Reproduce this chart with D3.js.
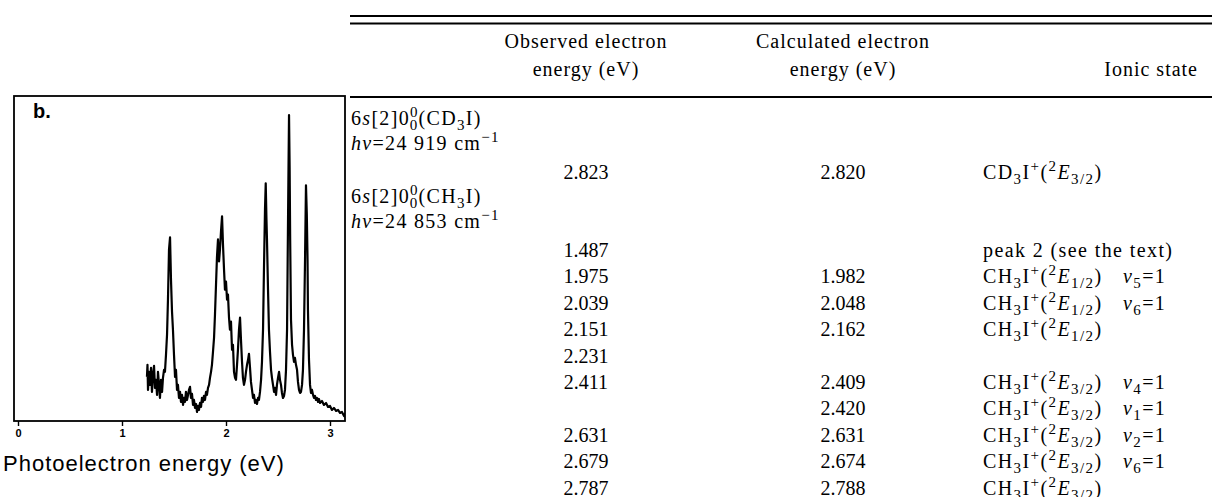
<!DOCTYPE html>
<html>
<head>
<meta charset="utf-8">
<script src="https://cdn.jsdelivr.net/npm/d3@7"></script>
<style>
body { margin: 0; background: #fff; }
svg { display: block; }
</style>
</head>
<body>
<script>
// panel b: photoelectron spectrum (eV, arbitrary intensity)
var energy = [1.240,1.245,1.250,1.260,1.269,1.279,1.288,1.298,1.308,1.317,1.327,1.337,1.346,1.356,1.365,1.375,1.385,1.394,1.404,1.413,
  1.423,1.433,1.442,1.452,1.462,1.471,1.481,1.490,1.500,1.510,1.519,1.529,1.538,1.548,1.558,1.567,1.577,1.587,1.596,1.606,
  1.615,1.625,1.635,1.644,1.654,1.663,1.673,1.683,1.692,1.702,1.712,1.721,1.731,1.740,1.750,1.760,1.769,1.779,1.788,1.798,
  1.808,1.817,1.827,1.837,1.846,1.856,1.865,1.875,1.885,1.894,1.904,1.913,1.923,1.933,1.942,1.952,1.962,1.971,1.981,1.990,
  2.000,2.010,2.019,2.029,2.038,2.048,2.058,2.067,2.077,2.087,2.096,2.106,2.115,2.125,2.135,2.144,2.154,2.163,2.173,2.183,
  2.192,2.202,2.212,2.221,2.231,2.240,2.250,2.260,2.269,2.279,2.288,2.298,2.308,2.317,2.327,2.337,2.346,2.356,2.365,2.375,
  2.382,2.389,2.394,2.404,2.413,2.423,2.433,2.442,2.452,2.462,2.471,2.481,2.490,2.500,2.510,2.519,2.529,2.538,2.548,2.558,
  2.567,2.577,2.587,2.593,2.600,2.606,2.612,2.617,2.625,2.635,2.644,2.654,2.663,2.673,2.683,2.692,2.702,2.712,2.721,2.731,
  2.740,2.750,2.760,2.769,2.777,2.784,2.788,2.798,2.808,2.817,2.827,2.837,2.846,2.856,2.865,2.875,2.885,2.894,2.904,2.923,
  2.942,2.962,2.981,3.000,3.019,3.038,3.058,3.077,3.096,3.115,3.135,3.144,3.154];
var intensity = [44,56,31,49,36,53,29,46,55,33,41,26,49,36,23,41,29,43,51,49,
  66,86,121,171,183,141,109,91,66,44,51,31,36,23,29,19,26,16,23,19,
  29,21,26,31,34,23,27,16,21,13,17,9,15,11,18,14,23,19,25,21,
  29,26,33,36,43,49,56,69,83,106,136,163,181,159,171,189,204,176,151,131,
  139,121,126,103,91,99,71,76,49,43,41,56,71,91,103,81,59,43,36,41,
  49,56,61,67,53,39,31,23,26,18,21,17,23,21,29,41,59,91,151,211,
  237,201,181,131,91,69,51,43,36,29,33,26,36,43,49,41,36,28,23,25,
  31,51,91,161,241,305,251,181,101,76,66,59,63,56,51,39,31,28,29,36,
  51,91,161,235,206,161,111,61,36,28,31,26,23,25,21,23,19,22,18,20,
  16,18,14,15,11,13,10,11,8,9,5,7,2];
var xTicks = [0, 1, 2, 3];
var panelLabel = "b.";
var xTitle = "Photoelectron energy (eV)";

// table: header, group labels and one entry per body row
var headObserved = ["Observed electron", "energy (eV)"];
var headCalculated = ["Calculated electron", "energy (eV)"];
var headState = "Ionic state";
var rowLabel = [
  [["6"], ["s", "i"], ["[2]0"], ["0", "p"], ["0", "bk"], ["(CD"], ["3", "b"], ["I)"]],
  [["h", "i"], ["ν", "i"], ["=24 919 cm"], ["−1", "p"]],
  null,
  [["6"], ["s", "i"], ["[2]0"], ["0", "p"], ["0", "bk"], ["(CH"], ["3", "b"], ["I)"]],
  [["h", "i"], ["ν", "i"], ["=24 853 cm"], ["−1", "p"]],
  null, null, null, null, null, null, null, null, null, null
];
var observed = ["", "", "2.823", "", "", "1.487", "1.975", "2.039", "2.151", "2.231", "2.411", "", "2.631", "2.679", "2.787"];
var calculated = ["", "", "2.820", "", "", "", "1.982", "2.048", "2.162", "", "2.409", "2.420", "2.631", "2.674", "2.788"];
var E32 = [["("], ["2", "p"], ["E", "i"], ["3/2", "b"], [")"]];
var E12 = [["("], ["2", "p"], ["E", "i"], ["1/2", "b"], [")"]];
var CD3 = [["CD"], ["3", "b"], ["I"], ["+", "p"]];
var CH3 = [["CH"], ["3", "b"], ["I"], ["+", "p"]];
var ionicState = [null, null, CD3.concat(E32), null, null,
  [["peak 2 (see the text)"]],
  CH3.concat(E12), CH3.concat(E12), CH3.concat(E12), null,
  CH3.concat(E32), CH3.concat(E32), CH3.concat(E32), CH3.concat(E32), CH3.concat(E32)];
var vibration = ["", "", "", "", "", "", "5", "6", "", "", "4", "1", "2", "6", ""];

var W = 1214, H = 497;
var svg = d3.select("body").append("svg").attr("width", W).attr("height", H);
var sans = "'Liberation Sans', Arial, sans-serif";

// ---------- spectrum panel ----------
var frame = { left: 14, right: 345, top: 96, bottom: 421 };
var x = d3.scaleLinear().domain([0, 3]).range([18, 330]);
var y = d3.scaleLinear().domain([0, 324]).range([frame.bottom, frame.top]);

svg.append("defs").append("clipPath").attr("id", "clip")
  .append("rect").attr("x", frame.left).attr("y", frame.top)
  .attr("width", frame.right - frame.left).attr("height", frame.bottom - frame.top);

var spec = energy.map(function (e, i) { return [e, intensity[i]]; });
var line = d3.line().x(function (d) { return x(d[0]); }).y(function (d) { return y(d[1]); });

svg.append("path").datum(spec)
  .attr("clip-path", "url(#clip)")
  .attr("fill", "none").attr("stroke", "#000")
  .attr("stroke-width", 2.2).attr("stroke-linejoin", "round")
  .attr("d", line);

svg.append("rect")
  .attr("x", frame.left).attr("y", frame.top)
  .attr("width", frame.right - frame.left).attr("height", frame.bottom - frame.top)
  .attr("fill", "none").attr("stroke", "#000").attr("stroke-width", 1.8);

var ax = svg.append("g").attr("transform", "translate(0," + frame.bottom + ")")
  .call(d3.axisBottom(x).tickValues(xTicks).tickSize(5).tickPadding(3).tickFormat(d3.format("d")));
ax.select(".domain").remove();
ax.selectAll("line").attr("stroke", "#000").attr("stroke-width", 1.4);
ax.selectAll("text").attr("fill", "#000")
  .style("font-family", sans).style("font-size", "11px").style("font-weight", "bold");

svg.append("text").attr("x", 33).attr("y", 118).text(panelLabel)
  .style("font-family", sans).style("font-size", "20px").style("font-weight", "bold");

svg.append("text").attr("x", 3).attr("y", 471).text(xTitle)
  .style("font-family", sans).style("font-size", "22px").style("letter-spacing", "1px");

// ---------- table ----------
var serif = "'Liberation Serif', 'Times New Roman', serif";
var T = { left: 350, right: 1212, obs: 586, calc: 843, state: 983, vib: 1123, stateRight: 1198 };
var small = 15;

function rich(sel, segs) {
  var shift = 0;
  segs.forEach(function (s) {
    var st = s[1] || "";
    var target = (st === "b" || st === "bk") ? 5 : (st === "p" ? -8 : 0);
    var ts = sel.append("tspan").text(s[0]);
    if (target - shift !== 0) ts.attr("dy", target - shift);
    if (target !== 0) ts.attr("font-size", small);
    if (st === "i") ts.attr("font-style", "italic");
    if (st === "bk") ts.attr("dx", -9);
    shift = target;
  });
  return sel;
}

var tbl = svg.append("g").style("font-family", serif).style("font-size", "20px").attr("fill", "#000");

[16, 23.5, 97].forEach(function (ry) {
  tbl.append("line").attr("x1", T.left).attr("x2", T.right).attr("y1", ry).attr("y2", ry)
    .attr("stroke", "#000").attr("stroke-width", 2);
});

var headY = d3.scaleLinear().domain([0, 1]).range([48, 76]);
headObserved.forEach(function (t, i) {
  tbl.append("text").attr("x", T.obs).attr("y", headY(i)).attr("text-anchor", "middle")
    .style("letter-spacing", "1px").text(t);
});
headCalculated.forEach(function (t, i) {
  tbl.append("text").attr("x", T.calc).attr("y", headY(i)).attr("text-anchor", "middle")
    .style("letter-spacing", "1px").text(t);
});
tbl.append("text").attr("x", T.stateRight).attr("y", headY(1)).attr("text-anchor", "end")
  .style("letter-spacing", "1px").text(headState);

// body row baselines
var rowY = d3.scaleLinear().domain([0, 1, 2, 3, 4, 5, 14]).range([125, 150, 179, 203, 228, 257, 494.6]);

rowLabel.forEach(function (segs, i) {
  if (!segs) return;
  rich(tbl.append("text").attr("x", T.left + 1).attr("y", rowY(i)).style("letter-spacing", "1.3px"), segs);
});
observed.forEach(function (v, i) {
  if (v) tbl.append("text").attr("x", T.obs).attr("y", rowY(i)).attr("text-anchor", "middle").text(v);
});
calculated.forEach(function (v, i) {
  if (v) tbl.append("text").attr("x", T.calc).attr("y", rowY(i)).attr("text-anchor", "middle").text(v);
});
ionicState.forEach(function (segs, i) {
  if (!segs) return;
  rich(tbl.append("text").attr("x", T.state).attr("y", rowY(i)).style("letter-spacing", "1.4px"), segs);
});
vibration.forEach(function (v, i) {
  if (!v) return;
  rich(tbl.append("text").attr("x", T.vib).attr("y", rowY(i)).style("letter-spacing", "1.4px"),
    [["ν", "i"], [v, "b"], ["=1"]]);
});
</script>
</body>
</html>
